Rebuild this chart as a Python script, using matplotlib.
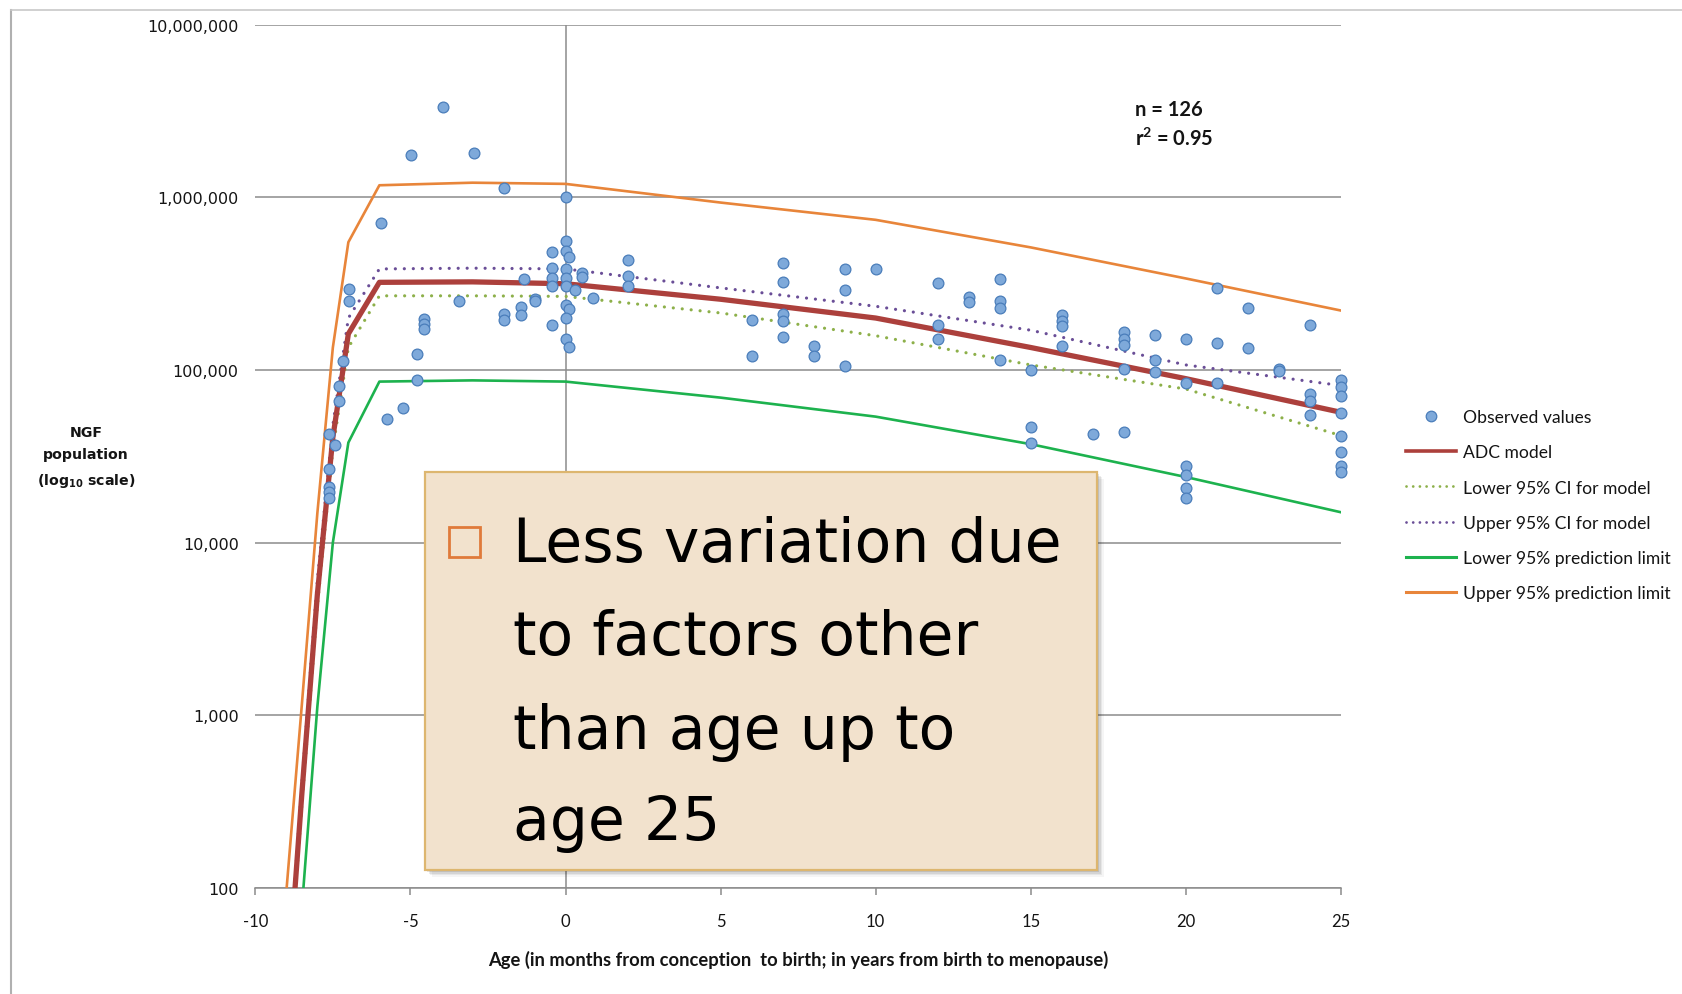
import matplotlib
matplotlib.use("Agg")
import matplotlib.pyplot as plt
from matplotlib.ticker import FuncFormatter, FixedLocator, NullLocator
from matplotlib.patches import Rectangle
from matplotlib.lines import Line2D

# ---------------- data ----------------
curve_age = [-9, -8.5, -8, -7.5, -7, -6, -3, 0, 5, 10, 15, 20, 25]
adc_model = [20, 350, 5000, 40700, 162000, 322000, 324000, 316000, 257000, 200000, 135000, 89100, 56900]
lower_ci = [18, 300, 4270, 34700, 135000, 269000, 269000, 267000, 214000, 158000, 107000, 77600, 41700]
upper_ci = [22, 400, 6030, 47900, 200000, 385000, 389000, 385000, 299000, 234000, 170000, 107000, 81300]
lower_pred = [5.2, 76, 1120, 10000, 38000, 85700, 87100, 85700, 69200, 53700, 37200, 24000, 15000]
upper_pred = [95, 1150, 14800, 135000, 550000, 1175000, 1216000, 1197000, 933000, 741000, 513000, 339000, 221000]

obs_age = [-7.61, -7.44, -7.61, -7.61, -7.61, -7.61,
           -7.29, -7.29, -7.18,
           -6.97, -6.97,
           -5.96,
           -5.74, -5.25,
           -4.99,
           -4.80, -4.80,
           -4.56, -4.56, -4.56,
           -3.94,
           -3.43,
           -2.94,
           -1.98, -1.98, -1.98,
           -1.43, -1.43,
           -1.33,
           -0.98, -0.98,
           -0.45, -0.45, -0.45, -0.45, -0.45,
           0, 0, 0, 0.1, 0, 0, 0, 0, 0.1, 0, 0, 0.1,
           0.31, 0.52, 0.52, 0.88,
           2, 2, 2,
           6, 6,
           7, 7, 7, 7, 7,
           8, 8,
           9, 9, 9,
           10,
           12, 12, 12,
           13, 13,
           14, 14, 14, 14,
           15, 15, 15,
           16, 16, 16, 16,
           17,
           18, 18, 18, 18, 18,
           19, 19, 19,
           20, 20, 20, 20, 20, 20,
           21, 21, 21,
           22, 22,
           23, 23,
           24, 24, 24, 24,
           25, 25, 25, 25, 25, 25, 25, 25]
obs_value = [42600, 37000, 26700, 21000, 19600, 18200,
             81000, 66500, 113000,
             295000, 250000,
             710000,
             52000, 60000,
             1760000,
             124000, 88000,
             198000, 185000, 173000,
             3350000,
             251000,
             1800000,
             1130000, 211000, 196000,
             233000, 207000,
             336000,
             258000, 250000,
             481000, 390000, 341000, 305000, 183000,
             1000000, 561000, 491000, 450000, 385000, 341000, 308000, 238000, 226000, 200000, 151000, 136000,
             289000, 363000, 347000, 261000,
             436000, 349000, 305000,
             196000, 120000,
             417000, 322000, 211000, 191000, 155000,
             138000, 120000,
             385000, 289000, 105000,
             385000,
             318000, 183000, 151000,
             266000, 247000,
             337000, 252000, 228000, 114000,
             100000, 47000, 37800,
             207000, 193000, 181000, 137000,
             42600,
             167000, 151000, 140000, 102000, 44000,
             160000, 114000, 98000,
             151000, 84000, 27700, 24700, 20700, 18100,
             299000, 143000, 84000,
             228000, 135000,
             101000, 99000,
             183000, 72800, 66500, 55000,
             87000, 79500, 71000, 56000, 41700, 33700, 27900, 25800]

x_ticks = [-10, -5, 0, 5, 10, 15, 20, 25]
y_ticks = [100, 1000, 10000, 100000, 1000000, 10000000]

legend_labels = ["Observed values", "ADC model", "Lower 95% CI for model",
                 "Upper 95% CI for model", "Lower 95% prediction limit",
                 "Upper 95% prediction limit"]

bullet_lines = ["Less variation due", "to factors other", "than age up to", "age 25"]

# ---------------- style ----------------
C_RED = "#AC403C"
C_ORANGE = "#E8853A"
C_GREEN = "#1DB24E"
C_PURPLE = "#6A4E97"
C_OLIVE = "#8DB04A"
C_GRID = "#8C8C8C"
C_PT_FACE = "#7EA9DA"
C_PT_EDGE = "#4A7DBA"
TXT = "#141414"

W, H = 1682, 995
fig = plt.figure(figsize=(W / 100, H / 100), dpi=100)
fig.patch.set_facecolor("white")

# outer frame of the chart (left and top edges visible)
fig.add_artist(Line2D([11 / W, 11 / W], [0, 1 - 11 / H], transform=fig.transFigure,
                      color="#B0B0B0", lw=1.5))
fig.add_artist(Line2D([11 / W, 1], [1 - 11 / H, 1 - 11 / H], transform=fig.transFigure,
                      color="#C8C8C8", lw=1.2))

ax_l, ax_r, ax_t, ax_b = 255.3, 1341.0, 25.7, 889.0
ax = fig.add_axes([ax_l / W, 1 - ax_b / H, (ax_r - ax_l) / W, (ax_b - ax_t) / H])
ax.set_yscale("log")
ax.set_xlim(-10, 25)
ax.set_ylim(100, 10000000)

for s in ["left", "right", "top"]:
    ax.spines[s].set_visible(False)
ax.spines["bottom"].set_color(C_GRID)
ax.spines["bottom"].set_linewidth(1.1)

ax.yaxis.set_major_locator(FixedLocator(y_ticks))
ax.yaxis.set_minor_locator(NullLocator())
ax.yaxis.set_major_formatter(FuncFormatter(lambda v, p: f"{v:,.0f}"))
ax.xaxis.set_major_locator(FixedLocator(x_ticks))
ax.xaxis.set_minor_locator(NullLocator())
ax.xaxis.set_major_formatter(FuncFormatter(lambda v, p: f"{v:g}"))

ax.tick_params(axis="y", length=0, pad=12, labelsize=11.5, labelcolor=TXT)
ax.tick_params(axis="x", length=5, width=1.1, color=C_GRID, pad=13, labelsize=12,
               labelcolor=TXT, direction="out")
for lab in ax.get_xticklabels():
    lab.set_fontfamily("Lato")
for lab in ax.get_yticklabels():
    lab.set_fontfamily("DejaVu Sans")

ax.grid(axis="y", which="major", color=C_GRID, lw=1.1)
ax.axvline(0, color=C_GRID, lw=1.1, zorder=1)
ax.set_axisbelow(True)

ax.plot(curve_age, upper_pred, color=C_ORANGE, lw=1.9, zorder=3, solid_joinstyle="round")
ax.plot(curve_age, lower_pred, color=C_GREEN, lw=1.9, zorder=3, solid_joinstyle="round")
ax.plot(curve_age, upper_ci, color=C_PURPLE, lw=2.3, ls=(0, (0.01, 2.8)),
        dash_capstyle="round", zorder=3)
ax.plot(curve_age, lower_ci, color=C_OLIVE, lw=2.3, ls=(0, (0.01, 2.8)),
        dash_capstyle="round", zorder=3)
ax.plot(curve_age, adc_model, color=C_RED, lw=3.8, zorder=4, solid_joinstyle="round",
        solid_capstyle="butt")
ax.scatter(obs_age, obs_value, s=60, facecolor=C_PT_FACE, edgecolor=C_PT_EDGE,
           linewidths=0.9, zorder=5, clip_on=False)

# axis titles
ax.set_xlabel("Age (in months from conception  to birth; in years from birth to menopause)",
              fontfamily="Lato", fontsize=13.2, fontweight="bold", color=TXT, labelpad=15)
plt.rcParams["mathtext.default"] = "regular"
fig.text(86 / W, 1 - 458 / H, "NGF\npopulation\n(log$_{10}$ scale)", ha="center",
         va="center", fontsize=10.2, fontweight="bold", color=TXT,
         fontfamily="DejaVu Sans", linespacing=1.75)

# n / r2
fig.text(1135 / W, 1 - 110 / H, "n = 126", ha="left", va="center", fontfamily="Lato",
         fontsize=14.5, fontweight="bold", color=TXT)
fig.text(1135 / W, 1 - 139 / H, "r$^2$ = 0.95", ha="left", va="center", fontfamily="Lato",
         fontsize=14.5, fontweight="bold", color=TXT)

# legend
handles = [
    Line2D([], [], ls="", marker="o", markersize=7.6, markerfacecolor=C_PT_FACE,
           markeredgecolor=C_PT_EDGE, markeredgewidth=0.9),
    Line2D([], [], color=C_RED, lw=2.6),
    Line2D([], [], color=C_OLIVE, lw=2.0, ls=(0, (0.01, 2.4)), dash_capstyle="round"),
    Line2D([], [], color=C_PURPLE, lw=2.0, ls=(0, (0.01, 2.4)), dash_capstyle="round"),
    Line2D([], [], color=C_GREEN, lw=2.2),
    Line2D([], [], color=C_ORANGE, lw=2.2),
]
leg = fig.legend(handles, legend_labels, loc="upper left",
                 bbox_to_anchor=(1406 / W, 1 - 410 / H), frameon=False,
                 borderpad=0, borderaxespad=0, handlelength=2.86, handletextpad=0.42,
                 labelspacing=1.10, prop={"family": "Lato", "size": 12.6})
for t in leg.get_texts():
    t.set_color(TXT)

# callout box with shadow
bx0, by0, bx1, by1 = 425, 473, 1097, 871
for i, a in enumerate([0.10, 0.08, 0.06, 0.04]):
    off = 2 + i * 1.5
    fig.add_artist(Rectangle(((bx0 + off) / W, 1 - (by1 + off) / H), (bx1 - bx0) / W,
                             (by1 - by0) / H, transform=fig.transFigure, facecolor="black",
                             edgecolor="none", alpha=a, zorder=8))
fig.add_artist(Rectangle((bx0 / W, 1 - by1 / H), (bx1 - bx0) / W, (by1 - by0) / H,
                         transform=fig.transFigure, facecolor="#F2E2CD",
                         edgecolor="#DDB66F", lw=1.6, zorder=9))
fig.add_artist(Rectangle((449 / W, 1 - 558 / H), 31 / W, 30 / H, transform=fig.transFigure,
                         facecolor="none", edgecolor="#E07A3A", lw=2.0, zorder=10))

baselines = [562, 655, 749, 840]
texts = []
for line, yb in zip(bullet_lines, baselines):
    texts.append(fig.text(513 / W, 1 - yb / H, line, ha="left", va="baseline",
                          fontfamily="DejaVu Sans", fontsize=40, color="black", zorder=11))
fig.canvas.draw()
r = fig.canvas.get_renderer()
w0 = texts[0].get_window_extent(r).width
scale = 548 / w0
for t in texts:
    t.set_fontsize(40 * scale)

fig.savefig("out.png", dpi=100, facecolor="white")
